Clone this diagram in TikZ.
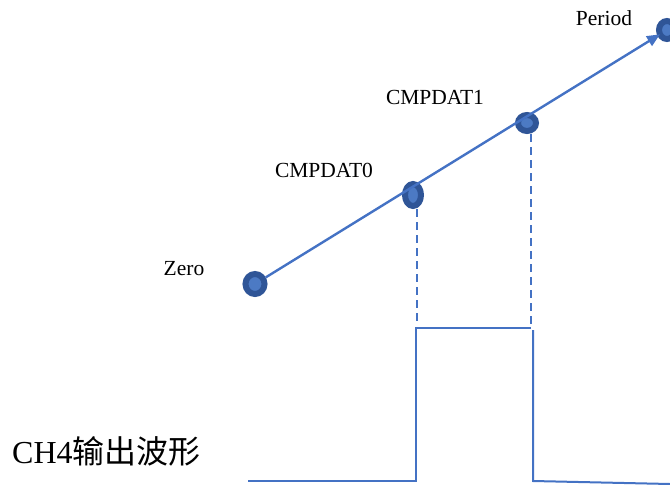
\documentclass[tikz,border=0pt]{standalone}
\usepackage{fontspec}
\setmainfont{Liberation Serif}
\newfontfamily\cjk{Noto Sans CJK SC}
\usetikzlibrary{shapes.geometric,arrows.meta}
\definecolor{lineblue}{RGB}{68,114,196}
\definecolor{dotedge}{RGB}{47,85,151}
\definecolor{dotfill}{RGB}{76,122,196}

\begin{document}
\begin{tikzpicture}[x=1pt, y=-1pt,
        dot/.style={ellipse, draw=dotedge, fill=dotfill, line width=6pt, inner sep=0pt},
        lbl/.style={anchor=base, inner sep=0pt, font=\fontsize{21.5}{24}\selectfont},
        ramp/.style={draw=lineblue, line width=2.4pt},
        guide/.style={draw=lineblue, line width=1.8pt, dash pattern=on 8pt off 5pt},
        wave/.style={draw=lineblue, line width=2pt}]
        \useasboundingbox (0,0) rectangle (670,485);
        % counter points
        \node[dot, minimum width=19pt, minimum height=20pt] (zero) at (255,284) {};
        \node[dot, minimum width=16pt, minimum height=22pt] (cmp0) at (413,195) {};
        \node[dot, minimum width=18pt, minimum height=16pt] (cmp1) at (527,123) {};
        \node[dot, minimum width=16pt, minimum height=18pt] (period) at (667,30) {};
        \draw[ramp, -{Triangle[length=13pt, width=11pt]}, shorten >=-3pt] (zero) -- (period);
        \node[lbl] (zerolbl) at (184,275) {Zero};
        \node[lbl] (cmp0lbl) at (324,177) {CMPDAT0};
        \node[lbl] (cmp1lbl) at (435,104) {CMPDAT1};
        \node[lbl] (periodlbl) at (604,25) {Period};
        % compare levels
        \coordinate (foot0) at (417,325);
        \coordinate (foot1) at (531,325);
        \draw[guide] (cmp0.south -| foot0) -- (foot0);
        \draw[guide] (cmp1.south -| foot1) -- (foot1);
        % output waveform
        \draw[wave] (248,481) -- (416,481) -- (416,328) -- (531,328);
        \draw[wave] (533,330) -- (533,481) -- (670,484);
        \node[anchor=base west, inner sep=0pt, font=\fontsize{32}{35}\selectfont] (ch4) at (12,463) {CH4{\cjk 输出波形}};
    \end{tikzpicture}
\end{document}
